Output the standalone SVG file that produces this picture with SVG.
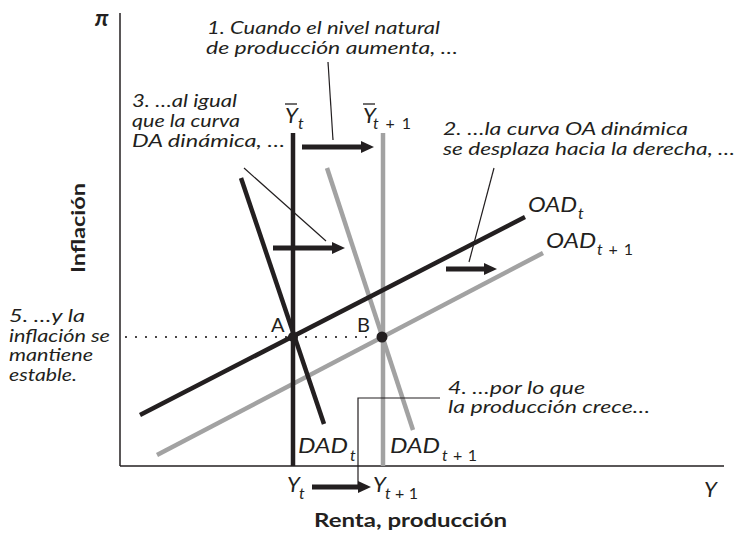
<svg xmlns="http://www.w3.org/2000/svg" width="737" height="533" viewBox="0 0 737 533">
<style>
text{font-family:Lato,"Liberation Sans",sans-serif;fill:#231f20}
.it{font-style:italic}
.ann{font-style:italic;font-size:17px}
.lbl{font-style:italic;font-size:22px}
.sub{font-style:italic;font-size:16px}
.bold{font-weight:bold;font-size:19px}
.blk{stroke:#231f20;stroke-width:4.5;fill:none}
.gry{stroke:#a2a2a2;stroke-width:4.5;fill:none}
.thin{stroke:#231f20;stroke-width:1.2;fill:none}
.arr{stroke:#231f20;stroke-width:5;fill:none;marker-end:url(#ah)}
</style>
<defs>
<marker id="ah" markerUnits="userSpaceOnUse" markerWidth="14" markerHeight="12" refX="3" refY="6" orient="auto">
<path d="M0,0 L13,6 L0,12 z" fill="#231f20"/>
</marker>
</defs>
<rect width="737" height="533" fill="#ffffff"/>
<g id="axes">
<line x1="120" y1="13" x2="120" y2="466" stroke="#231f20" stroke-width="1.5"/>
<line x1="120" y1="466" x2="724" y2="466" stroke="#231f20" stroke-width="1.5"/>
<text x="95" y="26" class="it" font-size="23" font-weight="bold">π</text>
<text x="704" y="497" class="lbl">Y</text>
<text x="314" y="527" class="bold" textLength="193" lengthAdjust="spacingAndGlyphs">Renta, producción</text>
<text transform="translate(85,273) rotate(-90)" class="bold" textLength="90" lengthAdjust="spacingAndGlyphs">Inflación</text>
</g>
<g id="curves">
<line id="OADt1" class="gry" x1="157" y1="455" x2="543" y2="253"/>
<line id="DADt1" class="gry" x1="327" y1="168" x2="413" y2="430"/>
<line id="Ybar_t1" class="gry" x1="383" y1="133" x2="383" y2="466"/>
<line id="Ybar_t" class="blk" x1="293" y1="133" x2="293" y2="466"/>
<line id="DADt" class="blk" x1="241" y1="178" x2="324" y2="424"/>
<line id="OADt" class="blk" x1="140" y1="415" x2="525" y2="217"/>
</g>
<g id="dotted">
<line x1="126" y1="337" x2="376" y2="337" stroke="#231f20" stroke-width="2.2" stroke-linecap="round" stroke-dasharray="0 10"/>
</g>
<g id="connectors">
<line class="arr" x1="302" y1="147" x2="364" y2="147"/>
<line class="arr" x1="273" y1="248" x2="335" y2="248"/>
<line class="arr" x1="446" y1="269" x2="487" y2="269"/>
<line class="arr" x1="312" y1="487" x2="361" y2="487"/>
<line class="thin" x1="328" y1="62" x2="333" y2="140"/>
<line class="thin" x1="244" y1="168" x2="326" y2="241"/>
<line class="thin" x1="494" y1="168" x2="469" y2="262"/>
<polyline class="thin" points="440,398 358,398 358,486"/>
</g>
<g id="pointA">
<circle cx="293" cy="337" r="5" fill="#231f20"/>
<text x="271" y="332" font-size="20">A</text>
</g>
<g id="pointB">
<circle cx="382" cy="337" r="5.5" fill="#231f20"/>
<text x="357" y="332" font-size="20">B</text>
</g>
<g id="labels">
<text x="285" y="123" class="lbl">Y</text>
<line x1="285" y1="104" x2="297" y2="104" stroke="#231f20" stroke-width="1.3"/>
<text x="298" y="129" class="sub">t</text>
<text x="363" y="123" class="lbl">Y</text>
<line x1="363" y1="104" x2="375" y2="104" stroke="#231f20" stroke-width="1.3"/>
<text x="373" y="129" class="sub" textLength="38" lengthAdjust="spacing">t<tspan font-style="normal"> + 1</tspan></text>
<text x="528" y="212" class="lbl" textLength="49" lengthAdjust="spacingAndGlyphs">OAD</text>
<text x="578" y="219" class="sub">t</text>
<text x="546" y="248" class="lbl" textLength="50" lengthAdjust="spacingAndGlyphs">OAD</text>
<text x="597" y="255" class="sub" textLength="36" lengthAdjust="spacing">t<tspan font-style="normal"> + 1</tspan></text>
<text x="298" y="453" class="lbl" textLength="50" lengthAdjust="spacingAndGlyphs">DAD</text>
<text x="350" y="461" class="sub">t</text>
<text x="390" y="453" class="lbl" textLength="50" lengthAdjust="spacingAndGlyphs">DAD</text>
<text x="442" y="461" class="sub" textLength="35" lengthAdjust="spacing">t<tspan font-style="normal"> + 1</tspan></text>
<text x="287" y="492" class="lbl">Y</text>
<text x="299" y="499" class="sub">t</text>
<text x="373" y="492" class="lbl">Y</text>
<text x="385" y="499" class="sub" textLength="33" lengthAdjust="spacing">t<tspan font-style="normal"> + 1</tspan></text>
</g>
<g id="annotations">
<text class="ann" x="207" y="34" textLength="233" lengthAdjust="spacingAndGlyphs">1. Cuando el nivel natural</text>
<text class="ann" x="206" y="54" textLength="252" lengthAdjust="spacingAndGlyphs">de producción aumenta, …</text>
<text class="ann" x="132" y="107" textLength="105" lengthAdjust="spacingAndGlyphs">3. …al igual</text>
<text class="ann" x="132" y="127" textLength="108" lengthAdjust="spacingAndGlyphs">que la curva</text>
<text class="ann" x="132" y="147" textLength="153" lengthAdjust="spacingAndGlyphs">DA dinámica, …</text>
<text class="ann" x="443" y="135" textLength="245" lengthAdjust="spacingAndGlyphs">2. …la curva OA dinámica</text>
<text class="ann" x="443" y="155" textLength="292" lengthAdjust="spacingAndGlyphs">se desplaza hacia la derecha, …</text>
<text class="ann" x="448" y="394" textLength="137" lengthAdjust="spacingAndGlyphs">4. …por lo que</text>
<text class="ann" x="448" y="413" textLength="202" lengthAdjust="spacingAndGlyphs">la producción crece…</text>
<text class="ann" x="9" y="322" textLength="76" lengthAdjust="spacingAndGlyphs">5. …y la</text>
<text class="ann" x="9" y="342" textLength="101" lengthAdjust="spacingAndGlyphs">inflación se</text>
<text class="ann" x="9" y="361" textLength="84" lengthAdjust="spacingAndGlyphs">mantiene</text>
<text class="ann" x="9" y="381" textLength="68" lengthAdjust="spacingAndGlyphs">estable.</text>
</g>
</svg>
